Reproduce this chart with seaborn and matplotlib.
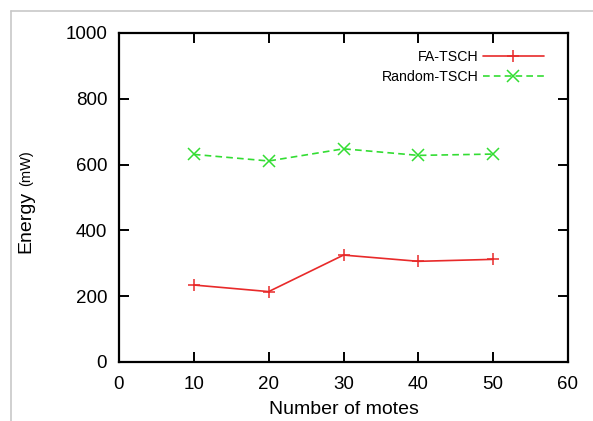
import matplotlib
matplotlib.use("Agg")
import matplotlib.pyplot as plt
from matplotlib.lines import Line2D
import seaborn as sns
import pandas as pd

motes = [10, 20, 30, 40, 50]
fa_tsch = [234, 214, 325, 306, 312]
random_tsch = [631, 611, 648, 628, 632]
series_names = ["FA-TSCH", "Random-TSCH"]
x_ticks = [0, 10, 20, 30, 40, 50, 60]
y_ticks = [0, 200, 400, 600, 800, 1000]

df = pd.DataFrame({
    "motes": motes * 2,
    "energy": fa_tsch + random_tsch,
    "series": [series_names[0]] * len(motes) + [series_names[1]] * len(motes),
})

sns.set_theme(style="ticks")
plt.rcParams["font.family"] = ["Liberation Sans", "DejaVu Sans"]
plt.rcParams["text.color"] = "black"
plt.rcParams["axes.labelcolor"] = "black"
plt.rcParams["xtick.color"] = "black"
plt.rcParams["ytick.color"] = "black"

fig = plt.figure(figsize=(5.93, 4.21), dpi=100)
ax = fig.add_axes([119 / 593, 1 - 362 / 421, (568 - 119) / 593, (362 - 33) / 421])

palette = {"FA-TSCH": "#e82a2a", "Random-TSCH": "#33dd33"}
sns.lineplot(data=df, x="motes", y="energy", hue="series", style="series",
             palette=palette,
             markers={"FA-TSCH": "+", "Random-TSCH": "x"},
             dashes={"FA-TSCH": "", "Random-TSCH": (4, 2.5)},
             markersize=8.5, markeredgewidth=1.1, linewidth=1.2, ax=ax, legend=True)

for line in ax.lines:
    line.set_markeredgecolor(line.get_color())

ax.set_xlim(0, 60)
ax.set_ylim(0, 1000)
ax.set_xticks(x_ticks)
ax.set_yticks(y_ticks)
ax.tick_params(direction="in", length=7.5, width=1.4, top=True, right=True,
               labelsize=13.5, colors="black")
ax.tick_params(axis="y", pad=8.5)
ax.tick_params(axis="x", pad=10)
for s in ax.spines.values():
    s.set_visible(True)
    s.set_linewidth(1.6)
    s.set_color("black")

ax.set_xlabel("Number of motes", fontsize=14, labelpad=6, color="black")
ax.set_ylabel("")

# y label with smaller unit
fig.text(30 / 593, 1 - 222 / 421, "Energy", rotation=90, fontsize=14,
         rotation_mode="anchor", ha="center", va="baseline", color="black")
fig.text(30 / 593, 1 - 168 / 421, "(mW)", rotation=90, fontsize=10.5,
         rotation_mode="anchor", ha="center", va="baseline", color="black")

handles, labels = ax.get_legend_handles_labels()
for h in handles:
    h.set_markeredgecolor(h.get_color())
    h.set_markeredgewidth(1.1)
ax.legend(handles, labels, loc="upper right", frameon=False, markerfirst=False,
          fontsize=10.2, handlelength=4.3, handletextpad=0.3,
          bbox_to_anchor=(0.965, 0.975), labelspacing=0.45, borderaxespad=0.2,
          labelcolor="black")

# light grey frame around the picture
fig.add_artist(Line2D([10.5 / 593, 10.5 / 593], [0, 1 - 11 / 421],
                      transform=fig.transFigure, color="#c8c8c8", linewidth=1.2))
fig.add_artist(Line2D([10.5 / 593, 1], [1 - 11 / 421, 1 - 11 / 421],
                      transform=fig.transFigure, color="#c8c8c8", linewidth=1.2))

fig.savefig("out.png", dpi=100)
